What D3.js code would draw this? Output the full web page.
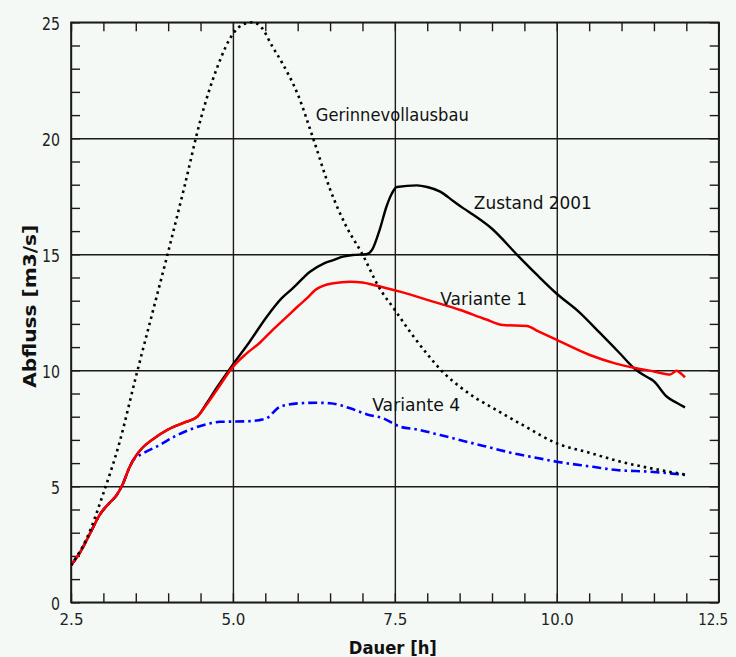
<!DOCTYPE html>
<html><head><meta charset="utf-8">
<script src="https://cdn.jsdelivr.net/npm/d3@7"></script>
<style>
html,body{margin:0;padding:0;background:#f5f9f6;}
svg{display:block;}
</style></head><body>
<svg id="c" width="736" height="657"></svg>
<script>
// ---- data ----
const xMajor = [2.5, 5.0, 7.5, 10.0, 12.5];
const xMajorLabels = ["2.5", "5.0", "7.5", "10.0", "12.5"];
const yMajor = [0, 5, 10, 15, 20, 25];
const yMajorLabels = ["0", "5", "10", "15", "20", "25"];
const xTitle = "Dauer [h]";
const yTitle = "Abfluss [m3/s]";

const gerinneT = [2.5, 2.75, 3.0, 3.25, 3.5, 3.75, 4.0, 4.25, 4.5, 4.75, 5.0, 5.15, 5.3, 5.45, 5.6, 5.75, 6.0, 6.25, 6.5, 6.75, 7.0, 7.25, 7.5, 7.75, 8.0, 8.25, 8.5, 8.75, 9.0, 9.5, 10.0, 10.5, 11.0, 11.5, 12.0];
const gerinneQ = [1.6, 2.8, 4.7, 6.9, 9.7, 12.4, 15.1, 17.9, 20.8, 23.0, 24.5, 24.9, 25.0, 24.75, 24.0, 23.3, 21.9, 19.9, 17.8, 16.2, 15.0, 13.6, 12.6, 11.6, 10.7, 9.9, 9.3, 8.8, 8.4, 7.6, 6.85, 6.45, 6.05, 5.75, 5.5];

const zustandT = [2.5, 2.65, 2.8, 2.95, 3.1, 3.2, 3.3, 3.4, 3.5, 3.6, 3.75, 4.0, 4.25, 4.45, 4.6, 4.75, 5.0, 5.25, 5.52, 5.75, 5.93, 6.19, 6.4, 6.55, 6.7, 6.85, 7.06, 7.15, 7.27, 7.37, 7.45, 7.53, 7.84, 8.0, 8.2, 8.4, 8.56, 8.71, 9.0, 9.38, 9.7, 10.0, 10.35, 10.67, 10.95, 11.23, 11.4, 11.49, 11.7, 11.85, 11.98];
const zustandQ = [1.6, 2.2, 3.0, 3.8, 4.3, 4.6, 5.1, 5.8, 6.3, 6.65, 7.0, 7.45, 7.75, 8.0, 8.6, 9.25, 10.25, 11.2, 12.3, 13.1, 13.55, 14.25, 14.6, 14.75, 14.9, 14.97, 15.0, 15.2, 16.1, 17.05, 17.6, 17.9, 17.97, 17.9, 17.7, 17.3, 16.98, 16.7, 16.1, 15.0, 14.1, 13.3, 12.5, 11.6, 10.8, 10.0, 9.7, 9.55, 8.86, 8.6, 8.4];

const variante1T = [2.5, 2.65, 2.8, 2.95, 3.1, 3.2, 3.3, 3.4, 3.5, 3.6, 3.75, 4.0, 4.25, 4.45, 4.6, 4.75, 5.0, 5.2, 5.42, 5.6, 5.83, 6.0, 6.14, 6.29, 6.4, 6.55, 6.81, 7.0, 7.17, 7.58, 8.09, 8.51, 8.9, 9.17, 9.54, 9.7, 10.0, 10.51, 10.9, 11.23, 11.5, 11.75, 11.85, 11.92, 11.98];
const variante1Q = [1.6, 2.2, 3.0, 3.8, 4.3, 4.6, 5.1, 5.8, 6.3, 6.65, 7.0, 7.45, 7.75, 8.0, 8.55, 9.15, 10.15, 10.7, 11.2, 11.7, 12.3, 12.75, 13.1, 13.5, 13.65, 13.75, 13.82, 13.78, 13.68, 13.39, 12.96, 12.6, 12.2, 11.95, 11.91, 11.7, 11.31, 10.66, 10.3, 10.09, 9.95, 9.82, 9.98, 9.85, 9.7];

const variante4T = [2.5, 2.65, 2.8, 2.95, 3.1, 3.2, 3.3, 3.4, 3.46, 3.6, 3.87, 4.1, 4.39, 4.6, 4.8, 5.21, 5.4, 5.52, 5.73, 6.04, 6.3, 6.5, 6.81, 7.07, 7.32, 7.58, 7.84, 8.2, 8.71, 9.0, 9.33, 9.7, 10.0, 10.56, 10.92, 11.44, 11.98];
const variante4Q = [1.6, 2.2, 3.0, 3.8, 4.3, 4.6, 5.1, 5.8, 6.13, 6.4, 6.78, 7.15, 7.5, 7.68, 7.78, 7.8, 7.85, 7.93, 8.43, 8.58, 8.6, 8.58, 8.36, 8.1, 7.93, 7.57, 7.45, 7.21, 6.85, 6.65, 6.42, 6.22, 6.06, 5.84, 5.7, 5.63, 5.49];

const seriesNames = ["Gerinnevollausbau", "Zustand 2001", "Variante 1", "Variante 4"];
const labelAnchorT = [6.28, 8.72, 8.2, 7.15];
const labelAnchorQ = [20.74, 16.95, 12.82, 8.25];

// ---- layout ----
const W = 736, H = 657;
const m = {left: 71, right: 17.3, top: 22.3, bottom: 54.7};
const svg = d3.select("#c");
svg.append("rect").attr("width", W).attr("height", H).attr("fill", "#f5f9f6");

const x = d3.scaleLinear().domain([2.5, 12.5]).range([m.left, W - m.right]);
const y = d3.scaleLinear().domain([0, 25]).range([H - m.bottom, m.top]);
const iw = W - m.left - m.right, ih = H - m.top - m.bottom;
const axisColor = "#1a1a1a";

const xMinor = d3.range(2.5, 12.5001, 0.5);
const yMinor = d3.range(0, 25.001, 1);

// grid
svg.append("g").attr("transform", `translate(0,${H - m.bottom})`)
  .call(d3.axisBottom(x).tickValues(xMajor).tickSize(-ih).tickFormat(""))
  .call(g => g.select(".domain").remove())
  .selectAll("line").attr("stroke", axisColor).attr("stroke-width", 1.4);
svg.append("g").attr("transform", `translate(${m.left},0)`)
  .call(d3.axisLeft(y).tickValues(yMajor).tickSize(-iw).tickFormat(""))
  .call(g => g.select(".domain").remove())
  .selectAll("line").attr("stroke", axisColor).attr("stroke-width", 1.4);

// inward minor ticks on all four sides
function styleTicks(g) {
  g.select(".domain").remove();
  g.selectAll("line").attr("stroke", axisColor).attr("stroke-width", 1.4);
}
svg.append("g").attr("transform", `translate(0,${H - m.bottom})`)
  .call(d3.axisBottom(x).tickValues(xMinor).tickSize(-9).tickFormat("")).call(styleTicks);
svg.append("g").attr("transform", `translate(0,${m.top})`)
  .call(d3.axisTop(x).tickValues(xMinor).tickSize(-9).tickFormat("")).call(styleTicks);
svg.append("g").attr("transform", `translate(${m.left},0)`)
  .call(d3.axisLeft(y).tickValues(yMinor).tickSize(-9).tickFormat("")).call(styleTicks);
svg.append("g").attr("transform", `translate(${W - m.right},0)`)
  .call(d3.axisRight(y).tickValues(yMinor).tickSize(-9).tickFormat("")).call(styleTicks);

// frame
svg.append("rect").attr("x", m.left).attr("y", m.top).attr("width", iw).attr("height", ih)
  .attr("fill", "none").attr("stroke", axisColor).attr("stroke-width", 1.6);

const font = "'DejaVu Sans', sans-serif";
function lenOf(s) { let L = 0; for (const c of s) L += (c === "." ? 6 : 9); return L; }
const lastX = xMajor.length - 1;

// tick labels
svg.append("g").attr("transform", `translate(0,${H - m.bottom})`)
  .call(d3.axisBottom(x).tickValues(xMajor).tickSize(0).tickPadding(0)
        .tickFormat((d, i) => xMajorLabels[i]))
  .call(g => g.select(".domain").remove())
  .selectAll("text")
  .attr("y", 23).attr("dy", null)
  .attr("text-anchor", (d, i) => i === lastX ? "end" : "middle")
  .attr("dx", (d, i) => i === lastX ? 9 : 0)
  .attr("font-family", font).attr("font-size", 16.5).attr("fill", "#222")
  .attr("textLength", (d, i) => lenOf(xMajorLabels[i]) - (i === lastX ? 3 : 0))
  .attr("lengthAdjust", "spacingAndGlyphs");

svg.append("g").attr("transform", `translate(${m.left},0)`)
  .call(d3.axisLeft(y).tickValues(yMajor).tickSize(0).tickPadding(11)
        .tickFormat((d, i) => yMajorLabels[i]))
  .call(g => g.select(".domain").remove())
  .selectAll("text")
  .attr("dy", 7.5)
  .attr("font-family", font).attr("font-size", 17).attr("fill", "#222")
  .attr("textLength", (d, i) => lenOf(yMajorLabels[i])).attr("lengthAdjust", "spacingAndGlyphs");

// axis titles
svg.append("text").attr("x", x(7.5) - 2).attr("y", 654)
  .attr("text-anchor", "middle").attr("font-family", font).attr("font-weight", "bold")
  .attr("font-size", 18).attr("fill", "#111")
  .attr("textLength", 88).attr("lengthAdjust", "spacingAndGlyphs").text(xTitle);
svg.append("text").attr("transform", `translate(36,${(m.top + H - m.bottom) / 2 - 6}) rotate(-90)`)
  .attr("text-anchor", "middle").attr("font-family", font).attr("font-weight", "bold")
  .attr("font-size", 18).attr("fill", "#111")
  .attr("textLength", 163).attr("lengthAdjust", "spacingAndGlyphs").text(yTitle);

// lines
const clip = svg.append("clipPath").attr("id", "pc").append("rect")
  .attr("x", m.left).attr("y", m.top - 3).attr("width", iw).attr("height", ih + 3);
const line = d3.line().x(d => x(d[0])).y(d => y(d[1])).curve(d3.curveMonotoneX);
const zip = (a, b) => a.map((v, i) => [v, b[i]]);
const plot = svg.append("g").attr("clip-path", "url(#pc)");

plot.append("path").datum(zip(variante4T, variante4Q)).attr("d", line)
  .attr("fill", "none").attr("stroke", "#0000ff").attr("stroke-width", 2.6)
  .attr("stroke-dasharray", "9,4,2.5,4");
plot.append("path").datum(zip(zustandT, zustandQ)).attr("d", line)
  .attr("fill", "none").attr("stroke", "#000").attr("stroke-width", 2.4);
plot.append("path").datum(zip(variante1T, variante1Q)).attr("d", line)
  .attr("fill", "none").attr("stroke", "#ff0000").attr("stroke-width", 2.5);
plot.append("path").datum(zip(gerinneT, gerinneQ)).attr("d", line)
  .attr("fill", "none").attr("stroke", "#000").attr("stroke-width", 2.6)
  .attr("stroke-dasharray", "2.5,4");

// series labels
const labelLens = [153, 118, 87, 88];
svg.append("g").selectAll("text").data(seriesNames).join("text")
  .attr("x", (d, i) => x(labelAnchorT[i]))
  .attr("y", (d, i) => y(labelAnchorQ[i]))
  .attr("font-family", font).attr("font-size", 18).attr("fill", "#111")
  .attr("textLength", (d, i) => labelLens[i]).attr("lengthAdjust", "spacingAndGlyphs")
  .text(d => d);
</script>
</body></html>
